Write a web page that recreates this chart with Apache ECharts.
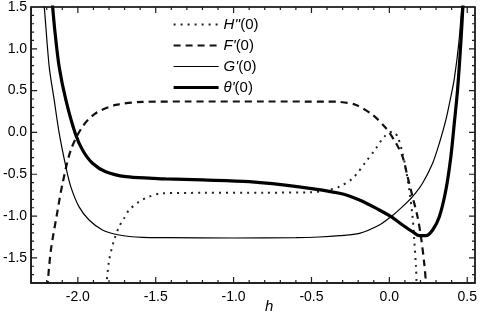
<!DOCTYPE html>
<html><head><meta charset="utf-8">
<script src="https://cdn.jsdelivr.net/npm/echarts@6/dist/echarts.min.js"></script>
<style>html,body{margin:0;padding:0;background:#fff}#c{width:481px;height:323px;background:#fff}</style>
</head><body><div id="c"></div>
<script>
const xMajor = [-2.0, -1.5, -1.0, -0.5, 0.0, 0.5];
const yMajor = [-1.5, -1.0, -0.5, 0.0, 0.5, 1.0, 1.5];

const hX = [-1.83, -1.816, -1.799, -1.767, -1.735, -1.703, -1.671, -1.607, -1.543, -1.457, -1.2, -0.8, -0.5, -0.4, -0.32, -0.235, -0.15, -0.085, -0.032, 0.021, 0.053, 0.085, 0.107, 0.128, 0.149, 0.16, 0.171, 0.175, 0.18];
const hY = [-2.0, -1.80, -1.525, -1.286, -1.127, -1.026, -0.927, -0.828, -0.768, -0.727, -0.722, -0.72, -0.715, -0.69, -0.648, -0.548, -0.349, -0.189, -0.05, 0.01, -0.05, -0.249, -0.449, -0.688, -1.007, -1.286, -1.605, -1.80, -2.0];

const fX = [-2.205, -2.194, -2.173, -2.137, -2.098, -2.045, -1.97, -1.885, -1.756, -1.585, -1.3, -0.8, -0.4, -0.32, -0.214, -0.107, -0.021, 0.043, 0.085, 0.117, 0.149, 0.181, 0.203, 0.224, 0.235, 0.24];
const fY = [-2.0, -1.80, -1.405, -1.007, -0.608, -0.21, 0.07, 0.23, 0.329, 0.365, 0.37, 0.37, 0.369, 0.365, 0.329, 0.209, 0.05, -0.129, -0.29, -0.528, -0.768, -1.007, -1.246, -1.565, -1.80, -2.0];

const gX = [-2.235, -2.216, -2.184, -2.152, -2.12, -2.077, -2.045, -1.992, -1.928, -1.842, -1.735, -1.585, -1.436, -1.0, -0.6, -0.45, -0.32, -0.192, -0.064, 0.011, 0.085, 0.149, 0.213, 0.278, 0.321, 0.363, 0.395, 0.417, 0.445, 0.465, 0.48];
const gY = [1.8, 1.505, 0.787, 0.389, -0.006, -0.41, -0.65, -0.89, -1.047, -1.166, -1.226, -1.254, -1.258, -1.262, -1.258, -1.25, -1.234, -1.206, -1.106, -1.007, -0.887, -0.768, -0.608, -0.368, -0.129, 0.15, 0.428, 0.64, 1.05, 1.5, 1.9];

const tX = [-2.172, -2.162, -2.146, -2.12, -2.077, -2.017, -1.97, -1.906, -1.821, -1.692, -1.521, -1.436, -1.2, -0.9, -0.58, -0.32, -0.192, -0.064, 0.011, 0.085, 0.149, 0.192, 0.235, 0.278, 0.321, 0.363, 0.395, 0.417, 0.438, 0.46, 0.475];
const tY = [1.75, 1.505, 1.187, 0.787, 0.389, -0.01, -0.21, -0.368, -0.469, -0.529, -0.548, -0.556, -0.568, -0.588, -0.65, -0.727, -0.807, -0.927, -1.007, -1.106, -1.187, -1.234, -1.234, -1.166, -1.007, -0.688, -0.29, 0.11, 0.508, 1.1, 1.6];

const names = ["H''(0)", "F'(0)", "G'(0)", "θ'(0)"];
const legendRich = {"H''(0)": "{i|H''}(0)", "F'(0)": "{i|F'}(0)", "G'(0)": "{i|G'}(0)", "θ'(0)": "{i|θ'}(0)"};

const X_MIN = -2.3, X_MAX = 0.55, Y_MIN = -1.8, Y_MAX = 1.5;
const GRID = {left: 31, right: 6, top: 6, bottom: 40};
const W = 481, H = 323;
const zip = (a, b) => a.map((v, i) => [v, b[i]]);
const FONT = 'Liberation Sans, Arial, sans-serif';
const black = '#000';
const frameColor = '#1c1c1c';

// frame with inward ticks as one continuous path (tick lengths in px converted by the plot scale)
const dxPerPx = (X_MAX - X_MIN) / (W - GRID.left - GRID.right);
const dyPerPx = (Y_MAX - Y_MIN) / (H - GRID.top - GRID.bottom);
const xTicks = [], yTicks = [];
for (let k = Math.ceil(X_MIN * 10); k <= Math.floor(X_MAX * 10); k++) xTicks.push([k / 10, k % 5 === 0 ? 6 : 3]);
for (let k = Math.ceil(Y_MIN * 10); k <= Math.floor(Y_MAX * 10); k++) yTicks.push([k / 10, k % 5 === 0 ? 6 : 3]);
const framePath = [[X_MIN, Y_MIN]];
xTicks.forEach(([v, l]) => framePath.push([v, Y_MIN], [v, Y_MIN + l * dyPerPx], [v, Y_MIN]));
framePath.push([X_MAX, Y_MIN]);
yTicks.forEach(([v, l]) => framePath.push([X_MAX, v], [X_MAX - l * dxPerPx, v], [X_MAX, v]));
framePath.push([X_MAX, Y_MAX]);
xTicks.slice().reverse().forEach(([v, l]) => framePath.push([v, Y_MAX], [v, Y_MAX - l * dyPerPx], [v, Y_MAX]));
framePath.push([X_MIN, Y_MAX]);
yTicks.slice().reverse().forEach(([v, l]) => framePath.push([X_MIN, v], [X_MIN + l * dxPerPx, v], [X_MIN, v]));
framePath.push([X_MIN, Y_MIN]);

const chart = echarts.init(document.getElementById('c'), null, {renderer: 'canvas'});
const common = {type: 'line', showSymbol: false, symbol: 'none', smooth: 0.3, animation: false, itemStyle: {color: 'rgba(0,0,0,0)'}};
chart.setOption({
  animation: false,
  grid: Object.assign({show: true, borderColor: frameColor, borderWidth: 1.5}, GRID),
  xAxis: {type: 'value', min: X_MIN, max: X_MAX, position: 'bottom',
    axisLine: {show: true, onZero: false, lineStyle: {color: frameColor, width: 1.5}},
    axisTick: {show: false},
    axisLabel: {show: true, customValues: xMajor, formatter: v => v.toFixed(1), color: black, fontSize: 14, fontFamily: FONT, margin: 7},
    splitLine: {show: false}},
  yAxis: {type: 'value', min: Y_MIN, max: Y_MAX, position: 'left',
    axisLine: {show: true, onZero: false, lineStyle: {color: frameColor, width: 1.5}},
    axisTick: {show: false},
    axisLabel: {show: true, customValues: yMajor, formatter: v => v.toFixed(1), color: black, fontSize: 14, fontFamily: FONT, margin: 4},
    splitLine: {show: false}},
  legend: {
    orient: 'vertical', left: 167, top: 12, itemWidth: 45, itemHeight: 14, itemGap: 6,
    data: names,
    lineStyle: {width: 'inherit'},
    formatter: n => legendRich[n],
    textStyle: {color: black, fontSize: 15, fontFamily: FONT, rich: {i: {fontStyle: 'italic', fontSize: 15, fontFamily: FONT, color: black}}}
  },
  graphic: [{type: 'text', left: 265, top: 299, style: {text: 'h', font: 'italic 15px ' + FONT, fill: black}}],
  series: [
    Object.assign({}, common, {name: names[0], data: zip(hX, hY), lineStyle: {color: '#222', width: 2, type: [2, 5]}}),
    Object.assign({}, common, {name: names[1], data: zip(fX, fY), lineStyle: {color: '#111', width: 2.2, type: [7, 5]}}),
    Object.assign({}, common, {name: names[2], data: zip(gX, gY), lineStyle: {color: black, width: 1.2}}),
    Object.assign({}, common, {name: names[3], data: zip(tX, tY), lineStyle: {color: black, width: 3.2}}),
    {type: 'line', name: 'frame', data: framePath, showSymbol: false, symbol: 'none', clip: false, animation: false, lineStyle: {color: frameColor, width: 1.2}}
  ]
});
</script></body></html>
